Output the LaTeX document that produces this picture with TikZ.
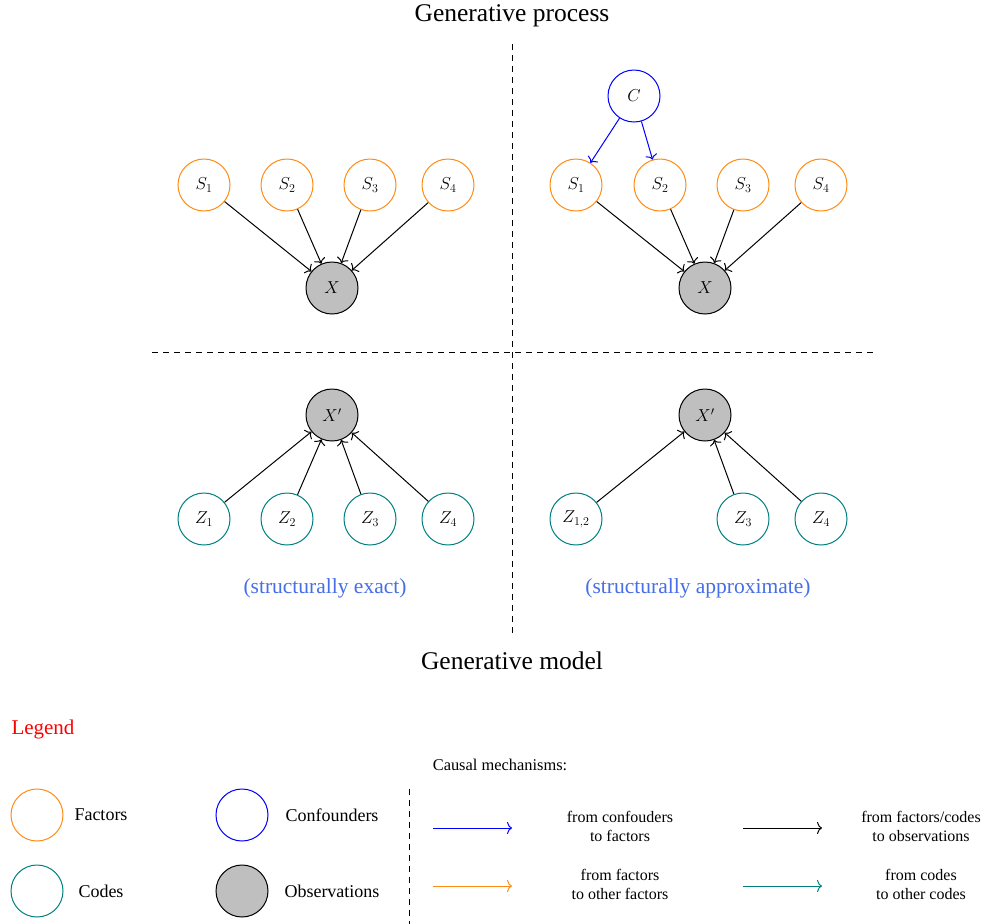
\documentclass[tikz,border=0pt]{standalone}
\usepackage{fontspec}
\setmainfont{Liberation Serif}
\usetikzlibrary{arrows.meta}
\definecolor{lblblue}{RGB}{70,110,230}
\definecolor{factorc}{RGB}{255,140,20}
\begin{document}
\begin{tikzpicture}[x=1pt,y=-1pt,
  var/.style={circle,draw,line width=1pt,minimum size=52pt,inner sep=0pt,font=\fontsize{18}{20}\selectfont},
  factor/.style={var,draw=factorc},
  code/.style={var,draw=teal},
  conf/.style={var,draw=blue},
  obs/.style={var,draw=black,fill=lightgray},
  arr/.style={line width=1pt,-{To[length=5pt,width=12pt]}},
  sep/.style={line width=1pt,dash pattern=on 6pt off 5pt},
  title/.style={font=\fontsize{25.5}{28}\selectfont},
  lbl/.style={text=lblblue,font=\fontsize{21.5}{24}\selectfont},
  legtxt/.style={font=\fontsize{18}{21}\selectfont},
  mechtxt/.style={align=center,font=\fontsize{16}{19}\selectfont}]
\useasboundingbox (0,0) rectangle (999,924);
% titles
\node[title] (tproc) at (512,16) {Generative process};
\node[title] (tmod) at (512,661) {Generative model};
% separators
\coordinate (v1) at (512,44); \coordinate (v2) at (512,635);
\coordinate (h1) at (152,352); \coordinate (h2) at (873,352);
\draw[sep] (v1) -- (v2);
\draw[sep] (h1) -- (h2);
% top-left
\node[factor] (a1) at (204,185) {$S_1$};
\node[factor] (a2) at (287,185) {$S_2$};
\node[factor] (a3) at (370,185) {$S_3$};
\node[factor] (a4) at (448,185) {$S_4$};
\node[obs] (ax) at (332,288) {$X$};
\foreach \i in {1,...,4} \draw[arr] (a\i) -- (ax);
% top-right
\node[conf] (bc) at (634,96) {$C$};
\node[factor] (b1) at (576,185) {$S_1$};
\node[factor] (b2) at (660,185) {$S_2$};
\node[factor] (b3) at (743,185) {$S_3$};
\node[factor] (b4) at (821,185) {$S_4$};
\node[obs] (bx) at (705,288) {$X$};
\foreach \i in {1,...,4} \draw[arr] (b\i) -- (bx);
\draw[arr,blue] (bc) -- (b1);
\draw[arr,blue] (bc) -- (b2);
% bottom-left
\node[obs] (cx) at (332,415) {$X'$};
\node[code] (c1) at (204,519) {$Z_1$};
\node[code] (c2) at (287,519) {$Z_2$};
\node[code] (c3) at (370,519) {$Z_3$};
\node[code] (c4) at (448,519) {$Z_4$};
\foreach \i in {1,...,4} \draw[arr] (c\i) -- (cx);
\node[lbl] (cl) at (325,588) {(structurally exact)};
% bottom-right
\node[obs] (dx) at (705,415) {$X'$};
\node[code] (d1) at (576,519) {$Z_{1,2}$};
\node[code] (d3) at (743,519) {$Z_3$};
\node[code] (d4) at (821,519) {$Z_4$};
\foreach \i in {1,3,4} \draw[arr] (d\i) -- (dx);
\node[lbl] (dl) at (698,588) {(structurally approximate)};
% legend
\node[text=red,font=\fontsize{21}{24}\selectfont] (leg) at (43,729) {Legend};
\node[factor] (lf) at (37,815) {};
\node[legtxt] (lft) at (101,815) {Factors};
\node[code] (lc) at (37,891) {};
\node[legtxt] (lct) at (101,891) {Codes};
\node[conf] (lcf) at (242,815) {};
\node[legtxt] (lcft) at (332,815) {Confounders};
\node[obs] (lo) at (242,891) {};
\node[legtxt] (lot) at (332,891) {Observations};
\coordinate (lv1) at (409,789); \coordinate (lv2) at (409,924);
\draw[sep] (lv1) -- (lv2);
\node[font=\fontsize{16.4}{19}\selectfont] (cm) at (500,765) {Causal mechanisms:};
\coordinate (m1a) at (433,828); \coordinate (m1b) at (512,828);
\coordinate (m2a) at (433,886); \coordinate (m2b) at (512,886);
\coordinate (m3a) at (743,828); \coordinate (m3b) at (822,828);
\coordinate (m4a) at (743,886); \coordinate (m4b) at (822,886);
\draw[arr,blue] (m1a) -- (m1b);
\draw[arr,factorc] (m2a) -- (m2b);
\draw[arr,black] (m3a) -- (m3b);
\draw[arr,teal] (m4a) -- (m4b);
\node[mechtxt] (t1) at (620,826) {from confouders\\to factors};
\node[mechtxt] (t2) at (620,884) {from factors\\to other factors};
\node[mechtxt] (t3) at (921,826) {from factors/codes\\to observations};
\node[mechtxt] (t4) at (921,884) {from codes\\to other codes};
\end{tikzpicture}
\end{document}
